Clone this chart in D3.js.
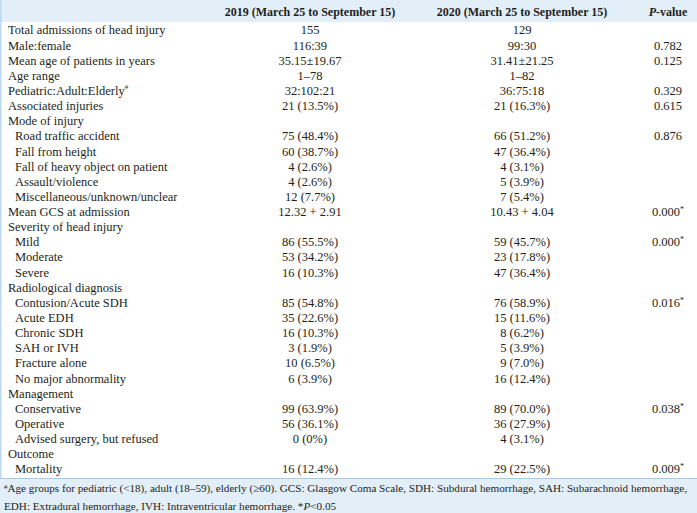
<!DOCTYPE html>
<html><head><meta charset="utf-8">
<script src="https://cdn.jsdelivr.net/npm/d3@7"></script>
<style>
html,body{margin:0;padding:0;background:#fff;}
svg{display:block;font-family:"Liberation Serif","Times New Roman",serif;}
</style></head>
<body>
<script>
const headers = ["", "2019 (March 25 to September 15)", "2020 (March 25 to September 15)", "P-value"];
const rowLabels = [
 "Total admissions of head injury","Male:female","Mean age of patients in years","Age range",
 "Pediatric:Adult:Elderly","Associated injuries","Mode of injury","Road traffic accident",
 "Fall from height","Fall of heavy object on patient","Assault/violence","Miscellaneous/unknown/unclear",
 "Mean GCS at admission","Severity of head injury","Mild","Moderate","Severe","Radiological diagnosis",
 "Contusion/Acute SDH","Acute EDH","Chronic SDH","SAH or IVH","Fracture alone","No major abnormality",
 "Management","Conservative","Operative","Advised surgery, but refused","Outcome","Mortality"];
const indented = [0,0,0,0,0,0,0,1,1,1,1,1,0,0,1,1,1,0,1,1,1,1,1,1,0,1,1,1,0,1];
const labelMarks = ["","","","","#","","","","","","","","","","","","","","","","","","","","","","","","",""];
const values2019 = ["155","116:39","35.15±19.67","1–78","32:102:21","21 (13.5%)","",
 "75 (48.4%)","60 (38.7%)","4 (2.6%)","4 (2.6%)","12 (7.7%)","12.32 + 2.91","",
 "86 (55.5%)","53 (34.2%)","16 (10.3%)","","85 (54.8%)","35 (22.6%)","16 (10.3%)","3 (1.9%)",
 "10 (6.5%)","6 (3.9%)","","99 (63.9%)","56 (36.1%)","0 (0%)","","16 (12.4%)"];
const values2020 = ["129","99:30","31.41±21.25","1–82","36:75:18","21 (16.3%)","",
 "66 (51.2%)","47 (36.4%)","4 (3.1%)","5 (3.9%)","7 (5.4%)","10.43 + 4.04","",
 "59 (45.7%)","23 (17.8%)","47 (36.4%)","","76 (58.9%)","15 (11.6%)","8 (6.2%)","5 (3.9%)",
 "9 (7.0%)","16 (12.4%)","","89 (70.0%)","36 (27.9%)","4 (3.1%)","","29 (22.5%)"];
const pValues = ["","0.782","0.125","","0.329","0.615","","0.876","","","","","0.000","",
 "0.000","","","","0.016","","","","","","","0.038","","","","0.009"];
const pStars = ["","","","","","","","","","","","","*","","*","","","","*","","","","","","","*","","","","*"];
const footLine1 = "Age groups for pediatric (<18), adult (18–59), elderly (≥60). GCS: Glasgow Coma Scale, SDH: Subdural hemorrhage, SAH: Subarachnoid hemorrhage,";
const footLine2a = "EDH: Extradural hemorrhage, IVH: Intraventricular hemorrhage. *";
const footLine2b = "P";
const footLine2c = "<0.05";

const W = 697, H = 513;
const ink = "#231f20", band = "#e2eef8", rule = "#a8cbe6";
const svg = d3.select("body").append("svg").attr("width", W).attr("height", H);

const colX = d3.scaleOrdinal().domain(["label","y2019","y2020","p"]).range([8, 310, 522, 668]);
const rowY = d3.scaleBand().domain(d3.range(rowLabels.length)).range([22.5, 476.5]);
const rc = i => rowY(i) + rowY.bandwidth()/2;

svg.append("rect").attr("x",0).attr("y",0).attr("width",W).attr("height",22).attr("fill",band);
svg.append("rect").attr("x",0).attr("y",0).attr("width",1.5).attr("height",H).attr("fill","#bcd8ee");
svg.append("rect").attr("x",0).attr("y",478).attr("width",W).attr("height",H-478).attr("fill",band);
svg.append("line").attr("x1",0).attr("x2",W).attr("y1",478.5).attr("y2",478.5).attr("stroke",rule).attr("stroke-width",1);

const hfs = 12, fs = 12.5;
const hy = 12;
svg.append("text").attr("x",colX("y2019")).attr("y",hy).attr("dy","0.35em").attr("text-anchor","middle")
  .attr("font-weight","bold").attr("font-size",hfs).attr("fill",ink).text(headers[1]);
svg.append("text").attr("x",colX("y2020")).attr("y",hy).attr("dy","0.35em").attr("text-anchor","middle")
  .attr("font-weight","bold").attr("font-size",hfs).attr("fill",ink).text(headers[2]);
const ph = svg.append("text").attr("x",colX("p")).attr("y",hy).attr("dy","0.35em").attr("text-anchor","middle")
  .attr("font-weight","bold").attr("font-size",hfs).attr("fill",ink);
ph.append("tspan").attr("font-style","italic").text("P");
ph.append("tspan").text("-value");

const rows = svg.append("g").selectAll("g").data(rowLabels).join("g");
const lab = rows.append("text").attr("x",(d,i)=>colX("label") + (indented[i]?7:0)).attr("y",(d,i)=>rc(i)).attr("dy","0.35em")
  .attr("font-size",fs).attr("fill",ink);
lab.append("tspan").text(d=>d);
lab.append("tspan").attr("font-size",7).attr("dy","-0.9em").text((d,i)=>labelMarks[i]);

rows.append("text").attr("x",colX("y2019")).attr("y",(d,i)=>rc(i)).attr("dy","0.35em").attr("text-anchor","middle")
  .attr("font-size",fs).attr("fill",ink).text((d,i)=>values2019[i]);
rows.append("text").attr("x",colX("y2020")).attr("y",(d,i)=>rc(i)).attr("dy","0.35em").attr("text-anchor","middle")
  .attr("font-size",fs).attr("fill",ink).text((d,i)=>values2020[i]);
const pt = rows.append("text").attr("x",colX("p")).attr("y",(d,i)=>rc(i)).attr("dy","0.35em").attr("text-anchor","middle")
  .attr("font-size",fs).attr("fill",ink);
pt.append("tspan").text((d,i)=>pValues[i]);
pt.append("tspan").attr("font-size",8).attr("dy","-0.5em").text((d,i)=>pStars[i]);

// footnote: scale font so the first line spans the band like the reference
let ffs = 10.5;
const f1 = svg.append("text").attr("x",4).attr("y",491).attr("dy","0.35em").attr("fill",ink);
f1.append("tspan").attr("font-size",7).attr("dy","-0.3em").text("#");
const f1main = f1.append("tspan").attr("dy","0.3em").text(footLine1);
const f2 = svg.append("text").attr("x",4).attr("y",506).attr("dy","0.35em").attr("fill",ink);
f2.append("tspan").text(footLine2a);
f2.append("tspan").attr("font-style","italic").text(footLine2b);
f2.append("tspan").text(footLine2c);
f1main.attr("font-size",ffs); f2.attr("font-size",ffs);
const w1 = f1.node().getComputedTextLength();
ffs = ffs * 684 / w1;
f1main.attr("font-size",ffs); f2.attr("font-size",ffs);
</script>
</body></html>
